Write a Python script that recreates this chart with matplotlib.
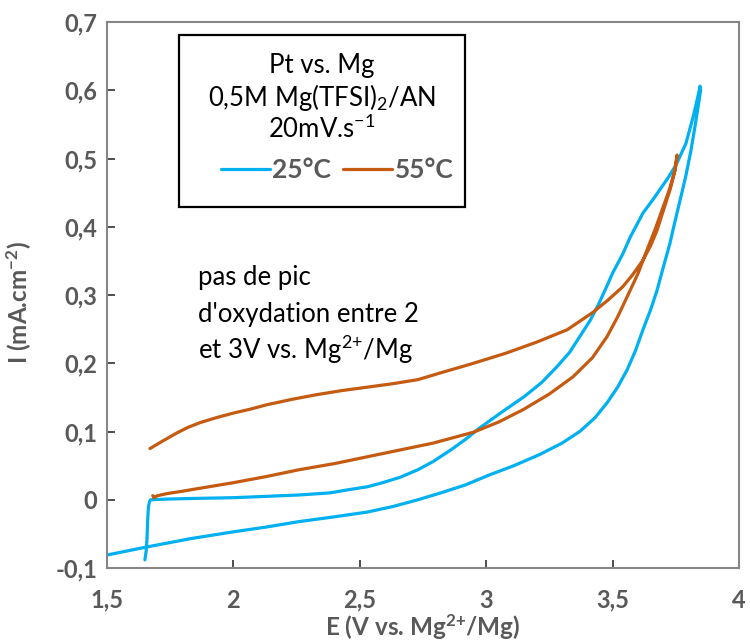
import matplotlib
matplotlib.use('Agg')
import matplotlib.pyplot as plt
from matplotlib.ticker import FuncFormatter
from matplotlib.patches import Rectangle

plt.rcParams['font.family'] = ['Lato', 'DejaVu Sans']
plt.rcParams['mathtext.fontset'] = 'custom'
plt.rcParams['mathtext.rm'] = 'Lato'
plt.rcParams['mathtext.it'] = 'Lato:italic'
plt.rcParams['mathtext.bf'] = 'Lato:bold'
plt.rcParams['mathtext.default'] = 'regular'

# ── CV data (E in V, I in mA/cm2) ─────────────────────────────────────────────
# 25°C: jump at ~1.66 V, forward (upper) sweep to 3.85 V, then back to 1.5 V
e_25 = [1.650, 1.655, 1.658, 1.661, 1.664, 1.668, 1.672,
        1.74, 1.85, 2.00, 2.13, 2.26, 2.38, 2.46, 2.53, 2.59, 2.66, 2.73,
        2.79, 2.86, 2.92, 2.97, 3.06, 3.15, 3.22, 3.28, 3.33, 3.37, 3.41,
        3.44, 3.47, 3.50, 3.54, 3.57, 3.60, 3.62, 3.66, 3.69, 3.72, 3.75,
        3.79, 3.82, 3.84, 3.846,
        3.848, 3.838, 3.825, 3.81, 3.79, 3.767, 3.745, 3.727, 3.70, 3.676,
        3.65, 3.62, 3.59, 3.557, 3.52, 3.478, 3.43, 3.37, 3.30, 3.21, 3.11,
        3.01, 2.92, 2.82, 2.73, 2.63, 2.53, 2.40, 2.26, 2.13, 2.00, 1.83,
        1.66, 1.50]
i_25 = [-0.088, -0.075, -0.059, -0.029, -0.010, -0.003, 0.000,
        0.001, 0.002, 0.003, 0.005, 0.007, 0.010, 0.015, 0.019, 0.025, 0.033,
        0.044, 0.056, 0.073, 0.089, 0.104, 0.128, 0.151, 0.172, 0.195, 0.216,
        0.239, 0.262, 0.283, 0.307, 0.332, 0.360, 0.385, 0.406, 0.420, 0.440,
        0.456, 0.472, 0.490, 0.522, 0.563, 0.595, 0.606,
        0.600, 0.575, 0.545, 0.512, 0.475, 0.439, 0.405, 0.376, 0.340, 0.307,
        0.278, 0.249, 0.218, 0.190, 0.165, 0.142, 0.120, 0.100, 0.083, 0.066,
        0.050, 0.036, 0.022, 0.010, 0.000, -0.010, -0.018, -0.025, -0.032,
        -0.040, -0.047, -0.057, -0.069, -0.081]

# 55°C: upper branch from 1.67 V up to 3.75 V, lower branch back to 1.68 V
e_55 = [1.670, 1.72, 1.777, 1.82, 1.868, 1.93, 2.00, 2.07, 2.13, 2.23, 2.33,
        2.43, 2.53, 2.63, 2.73, 2.82, 2.95, 3.08, 3.20, 3.32, 3.42, 3.48,
        3.54, 3.58, 3.62, 3.65, 3.676, 3.70, 3.727, 3.745, 3.755,
        3.752, 3.747, 3.725, 3.70, 3.67, 3.636, 3.60, 3.557, 3.52, 3.478,
        3.42, 3.343, 3.25, 3.146, 3.05, 2.95, 2.86, 2.79, 2.66, 2.53, 2.40,
        2.26, 2.13, 2.00, 1.87, 1.79, 1.737, 1.70, 1.685, 1.681]
i_55 = [0.075, 0.086, 0.098, 0.106, 0.113, 0.120, 0.127, 0.133, 0.139, 0.147,
        0.154, 0.160, 0.165, 0.170, 0.176, 0.186, 0.200, 0.215, 0.231, 0.249,
        0.274, 0.292, 0.312, 0.330, 0.351, 0.372, 0.395, 0.423, 0.454, 0.480,
        0.505,
        0.495, 0.483, 0.455, 0.429, 0.398, 0.366, 0.331, 0.297, 0.268, 0.239,
        0.208, 0.180, 0.155, 0.132, 0.114, 0.099, 0.090, 0.083, 0.073, 0.063,
        0.053, 0.044, 0.034, 0.025, 0.017, 0.012, 0.009, 0.006, 0.003, 0.006]

x_ticks = [1.5, 2, 2.5, 3, 3.5, 4]
y_ticks = [-0.1, 0, 0.1, 0.2, 0.3, 0.4, 0.5, 0.6, 0.7]

box_lines = ['Pt vs. Mg', '0,5M Mg(TFSI)$_2$/AN', '20mV.s$^{-1}$']
note_lines = ['pas de pic', "d'oxydation entre 2",
              'et 3V vs. Mg$^{2{+}}$/Mg']

blue = '#00B0F0'
orange = '#C55A11'
grey_txt = '#595959'
grey_ax = '#868686'

fig = plt.figure(figsize=(7.5, 6.41), dpi=100)
ax = fig.add_axes([107 / 750, 1 - 568 / 641, 632 / 750, 546 / 641])

ax.plot(e_25, i_25, color=blue, lw=2.3, label='25°C',
        solid_capstyle='round', solid_joinstyle='round')
ax.plot(e_55, i_55, color=orange, lw=2.3, label='55°C',
        solid_capstyle='round', solid_joinstyle='round')

ax.set_xlim(1.5, 4)
ax.set_ylim(-0.1, 0.7)
ax.set_xticks(x_ticks)
ax.set_yticks(y_ticks)
fmt = FuncFormatter(lambda v, p: f"{round(v, 2):g}".replace('.', ','))
ax.xaxis.set_major_formatter(fmt)
ax.yaxis.set_major_formatter(fmt)
ax.tick_params(direction='in', length=6, width=1.3, color='#404040',
               labelsize=17, labelcolor=grey_txt)
ax.tick_params(axis='x', pad=15)
ax.tick_params(axis='y', pad=7)
for lab in ax.get_xticklabels() + ax.get_yticklabels():
    lab.set_fontweight('bold')
for s in ax.spines.values():
    s.set_color(grey_ax)
    s.set_linewidth(1.5)

ax.set_xlabel('E (V vs. Mg$^{2{+}}$/Mg)', fontsize=17.5, fontweight='bold',
              color=grey_txt, va='center')
ax.xaxis.set_label_coords(0.5, -(627 - 568) / 546)
ax.set_ylabel('I (mA.cm$^{-2}$)', fontsize=17.5, fontweight='bold',
              color=grey_txt, va='center')
ax.yaxis.set_label_coords(-(107 - 19) / 632, (568 - 303) / 546)

# ── info box ────────────────────────────────────────────────────────────────
fig.patches.append(Rectangle((179 / 750, 1 - 207 / 641), 286 / 750, 172 / 641,
                             transform=fig.transFigure, fill=False,
                             edgecolor='black', lw=1.6))
for txt, yp in zip(box_lines, [73, 106, 138]):
    fig.text(322 / 750, 1 - yp / 641, txt, ha='center', va='baseline',
             fontsize=18.5)
leg = ax.legend(loc='center', bbox_to_anchor=(337 / 750, 1 - 170 / 641),
                bbox_transform=fig.transFigure, ncol=2, frameon=False,
                fontsize=19, handlelength=1.85, handletextpad=0.1,
                columnspacing=0.45)
for t in leg.get_texts():
    t.set_color(grey_txt)
    t.set_fontweight('bold')

# ── annotation ───────────────────────────────────────────────────────────────
for txt, yp in zip(note_lines, [285, 322, 359]):
    fig.text(198 / 750, 1 - yp / 641, txt, ha='left', va='baseline',
             fontsize=18.5)

fig.savefig('out.png', dpi=100)
